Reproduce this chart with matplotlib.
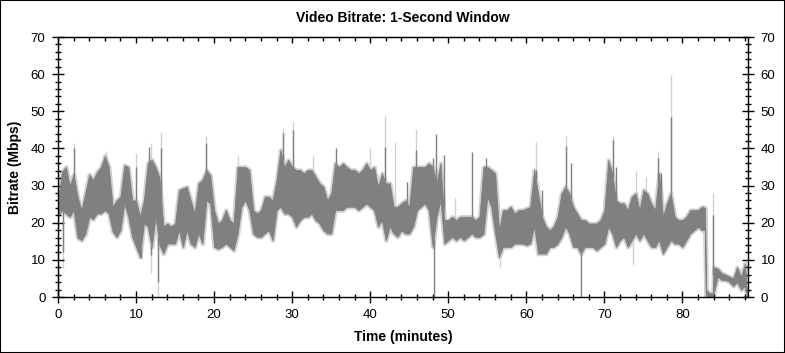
import matplotlib
matplotlib.use("Agg")
import matplotlib.pyplot as plt
from matplotlib.ticker import MultipleLocator, NullFormatter
import numpy as np

plt.rcParams["font.family"] = ["Liberation Sans", "DejaVu Sans"]

# band of the 1-second bitrate (minutes, Mbps)
minutes = [
    0.0, 0.5, 1.0, 1.5, 2.0, 2.5, 3.0, 3.5, 4.0, 4.5,
    5.0, 5.5, 6.0, 6.5, 7.0, 7.5, 8.0, 8.5, 9.0, 9.5,
    10.0, 10.5, 11.0, 11.5, 12.0, 12.5, 13.0, 13.5, 14.0, 14.5,
    15.0, 15.5, 16.0, 16.5, 17.0, 17.5, 18.0, 18.5, 19.0, 19.5,
    20.0, 20.5, 21.0, 21.5, 22.0, 22.5, 23.0, 23.5, 24.0, 24.5,
    25.0, 25.5, 26.0, 26.5, 27.0, 27.5, 28.0, 28.5, 29.0, 29.5,
    30.0, 30.5, 31.0, 31.5, 32.0, 32.5, 33.0, 33.5, 34.0, 34.5,
    35.0, 35.5, 36.0, 36.5, 37.0, 37.5, 38.0, 38.5, 39.0, 39.5,
    40.0, 40.5, 41.0, 41.5, 42.0, 42.5, 43.0, 43.5, 44.0, 44.5,
    45.0, 45.5, 46.0, 46.5, 47.0, 47.5, 48.0, 48.5, 49.0, 49.5,
    50.0, 50.5, 51.0, 51.5, 52.0, 52.5, 53.0, 53.5, 54.0, 54.5,
    55.0, 55.5, 56.0, 56.5, 57.0, 57.5, 58.0, 58.5, 59.0, 59.5,
    60.0, 60.5, 61.0, 61.5, 62.0, 62.5, 63.0, 63.5, 64.0, 64.5,
    65.0, 65.5, 66.0, 66.5, 67.0, 67.5, 68.0, 68.5, 69.0, 69.5,
    70.0, 70.5, 71.0, 71.5, 72.0, 72.5, 73.0, 73.5, 74.0, 74.5,
    75.0, 75.5, 76.0, 76.5, 77.0, 77.5, 78.0, 78.5, 79.0, 79.5,
    80.0, 80.5, 81.0, 81.5, 82.0, 82.5, 82.9, 83.0, 83.5, 83.9,
    84.0, 84.5, 85.0, 85.5, 86.0, 86.5, 87.0, 87.5, 88.0, 88.3,
]
rate_hi = [
    26, 33.7, 35, 30, 33, 27, 23.4, 28, 33, 31.5,
    33.7, 35, 38, 35, 24.3, 26, 27, 35.5, 35, 26,
    26, 21.6, 26, 36, 37, 35, 32, 19, 19.8, 19,
    19.8, 28.8, 29.3, 29.7, 26, 22.5, 30.6, 31.5, 34.2, 32.8,
    23.4, 19.8, 20.7, 23.4, 20.7, 19.8, 35, 35, 35, 34.2,
    23.4, 22.5, 23.4, 27, 27, 26, 31.5, 39.6, 35, 36.9,
    35, 34.2, 34.2, 33.3, 34.2, 34.2, 32.4, 30.6, 29.7, 26,
    27.9, 36, 35, 36, 35, 34.2, 34.2, 33.3, 34.2, 36,
    34.2, 35, 29.7, 33.3, 30.6, 30.6, 24.3, 24.3, 25.2, 26,
    24.3, 35, 35, 35, 35, 36, 35, 30.6, 36, 20.7,
    20.7, 21.6, 20.7, 21.6, 21.6, 21.6, 21.6, 20.7, 21.6, 35,
    35, 34.2, 33.3, 18, 23.4, 23.4, 24.3, 22.5, 23.4, 23.4,
    23.8, 24.3, 34.2, 27.9, 21.6, 19, 18, 19, 21.6, 27.9,
    29.7, 27.9, 24.3, 22.5, 20.7, 20.7, 19.8, 19.8, 19.8, 20.7,
    23.4, 36.9, 33.3, 26, 25.2, 25.2, 23.4, 27, 27.9, 23.4,
    28.8, 27.9, 25.2, 23.4, 33.3, 21.6, 25.2, 27.9, 21.6, 20.7,
    20.7, 21.6, 23.4, 23.4, 23.4, 24.3, 24.0, 2, 1, 1,
    8, 7.7, 6.5, 6.0, 5.5, 5, 8, 5.5, 9, 0,
]
rate_lo = [
    22, 23.4, 22.5, 21.6, 23.4, 16, 15.3, 17, 21.6, 21,
    22.5, 22.5, 23.4, 22.5, 17.6, 16.2, 18, 25.2, 21.6, 16.2,
    13.5, 10.8, 19.8, 19, 13.5, 21.6, 14, 11.7, 14.4, 14.4,
    14.4, 18, 13.5, 18, 14.4, 13.5, 17.1, 14.4, 26, 25.2,
    13.5, 13, 13.5, 14.4, 13.5, 12.6, 17, 24.3, 26, 23.4,
    17.1, 16.2, 16.2, 17.1, 18, 15.3, 23.4, 24.3, 22.5, 22.5,
    21.6, 19, 20.7, 21.6, 21.6, 22.5, 20.7, 19.8, 18, 17.1,
    17.1, 23.4, 23.4, 23.4, 24.3, 24.3, 24.3, 23.4, 24.3, 25.2,
    24.3, 23.4, 19, 20.7, 15.3, 19, 17.1, 16.2, 18, 17.1,
    17.1, 19, 23.4, 24.3, 25.2, 23.4, 13.5, 21.6, 26, 14.4,
    15.3, 16.2, 15.3, 16.2, 15.3, 16.2, 17.1, 16.2, 16.2, 17,
    27, 24.3, 17.1, 10.8, 13.5, 13.5, 13.5, 14.4, 14.4, 14.4,
    14, 14.4, 19, 11.7, 11.7, 11.7, 13.5, 13.5, 14.4, 16.2,
    19, 17.1, 13.5, 13.5, 11.7, 13.5, 13.5, 13.5, 12.6, 13.5,
    14.4, 19, 17.1, 13.5, 15.3, 16.2, 13.5, 15.3, 17.1, 15.3,
    17.1, 15.3, 13.5, 13.5, 15.3, 11.7, 13.5, 15.3, 14.4, 14.4,
    13.5, 15.3, 17.1, 18, 18.9, 18, 18.0, 0, 0, 0,
    1, 5.5, 4.6, 4.6, 4.1, 3, 4, 2, 3, 0,
]

# single-second peaks and drops
peak_light_t = [2.09, 6.11, 10.0, 11.92, 13.25, 18.93, 23.12, 28.8, 30.17, 32.7,
                40.0, 41.88, 43.12, 45.81, 50.85, 61.2, 65.04, 71.07, 74.0, 75.3,
                76.88, 78.5, 83.97]
peak_light_v = [41.5, 39.3, 38.7, 41.4, 44.3, 43.3, 38.2, 45.4, 47.4, 38.2,
                40, 49, 41.8, 45.1, 26.6, 41.8, 43.3, 43.3, 34, 32.4,
                39.4, 59.8, 28]
peak_dark_t = [2.09, 10.0, 11.71, 13.25, 18.93, 28.8, 30.17, 35.56, 41.88, 44.7,
               45.81, 48.0, 48.42, 49.4, 53.03, 54.83, 61.2, 62.0, 65.04, 65.68,
               71.07, 71.5, 76.88, 77.3, 78.5, 83.97]
peak_dark_v = [40, 35, 40.5, 40, 41.4, 44.1, 45, 40, 40.5, 31,
               39.6, 37.3, 43.8, 38.2, 39.1, 37.3, 34.2, 28.8, 40.6, 36,
               42.3, 35, 37.3, 33.3, 48.5, 22]
drop_light_t = [0.68, 11.97, 12.86, 56.67, 73.63]
drop_light_v = [7.7, 6.4, 0, 8.2, 8.6]
drop_dark_t = [0.0, 0.68, 10.64, 11.97, 12.86, 48.12, 66.97]
drop_dark_v = [0, 12, 10.4, 11.3, 4.1, 0, 0]

DARK = "#808080"
LIGHT = "#d2d2d2"


def main():
    fig = plt.figure(figsize=(7.85, 3.53), dpi=100)
    ax = fig.add_axes([58 / 785, 1 - 297 / 353, 690 / 785, 260 / 353])

    t = np.array(minutes)
    hi = np.array(rate_hi)
    lo = np.array(rate_lo)

    # light fringe, then light spikes, then the dark band on top
    ax.fill_between(t, lo, hi, facecolor=LIGHT, edgecolor=LIGHT, linewidth=3.2, zorder=1)
    ax.vlines(peak_light_t, np.interp(peak_light_t, t, hi), peak_light_v, color=LIGHT, lw=1.0, zorder=1)
    ax.vlines(drop_light_t, drop_light_v, np.interp(drop_light_t, t, lo), color=LIGHT, lw=1.0, zorder=1)
    ax.fill_between(t, lo, hi, facecolor=DARK, edgecolor=DARK, linewidth=0.6, zorder=2)
    ax.vlines(peak_dark_t, np.interp(peak_dark_t, t, hi), peak_dark_v, color=DARK, lw=1.0, zorder=2)
    ax.vlines(drop_dark_t, drop_dark_v, np.interp(drop_dark_t, t, lo), color=DARK, lw=1.0, zorder=2)

    ax.set_xlim(0, 88.4)
    ax.set_ylim(0, 70)
    ax.xaxis.set_major_locator(MultipleLocator(10))
    ax.xaxis.set_minor_locator(MultipleLocator(2))
    ax.yaxis.set_major_locator(MultipleLocator(10))
    ax.yaxis.set_minor_locator(MultipleLocator(2))
    ax.tick_params(which="both", direction="inout", top=False, right=True,
                   labelright=True, colors="black", labelsize=9.5)
    ax.tick_params(which="major", length=8, width=1, pad=5)
    ax.tick_params(which="minor", length=5, width=1)
    for s in ax.spines.values():
        s.set_linewidth(1)

    # top edge only carries inward ticks
    top = ax.secondary_xaxis("top")
    top.xaxis.set_major_locator(MultipleLocator(10))
    top.xaxis.set_minor_locator(MultipleLocator(2))
    top.xaxis.set_major_formatter(NullFormatter())
    top.tick_params(which="major", direction="in", length=4, width=1)
    top.tick_params(which="minor", direction="in", length=3, width=1)

    ax.set_title("Video Bitrate: 1-Second Window", fontsize=10, fontweight="bold", pad=11)
    ax.set_xlabel("Time (minutes)", fontsize=10, fontweight="bold", labelpad=6)
    ax.set_ylabel("Bitrate (Mbps)", fontsize=10, fontweight="bold", labelpad=6)

    fig.patches.append(plt.Rectangle((0, 0), 1, 1, transform=fig.transFigure,
                                     fill=False, edgecolor="black", linewidth=1.5))
    fig.savefig("out.png", dpi=100)


if __name__ == "__main__":
    main()
